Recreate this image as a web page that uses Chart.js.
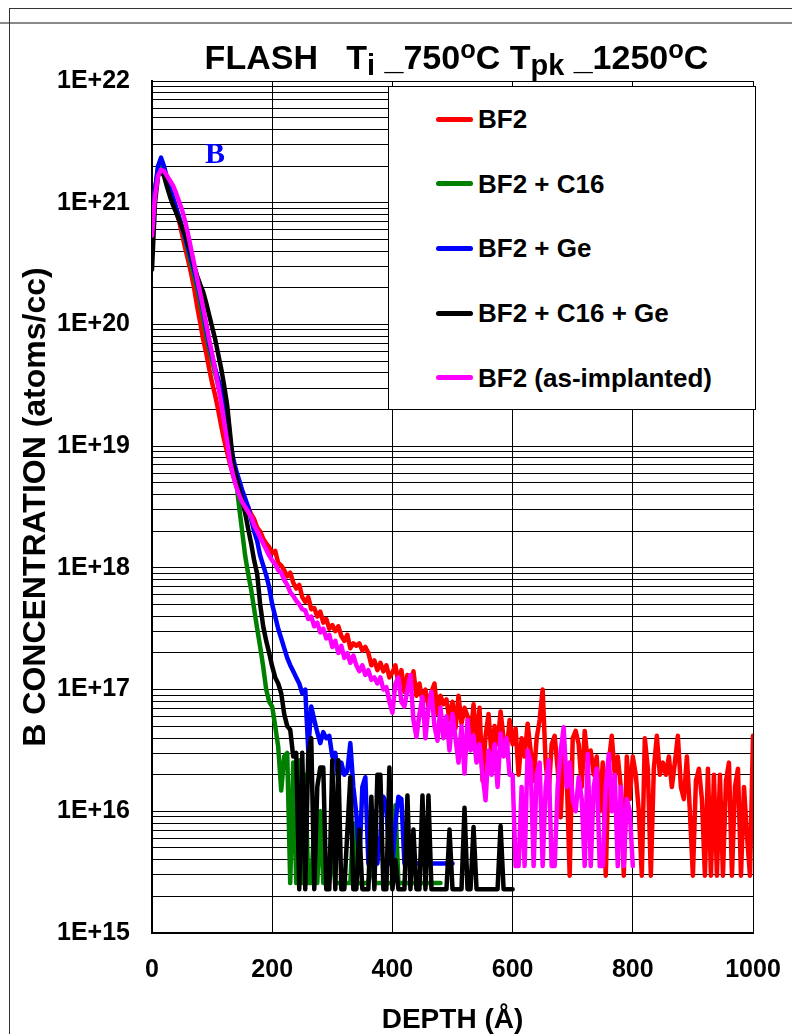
<!DOCTYPE html>
<html>
<head>
<meta charset="utf-8">
<title>FLASH Ti 750°C Tpk 1250°C</title>
<script src="https://cdn.jsdelivr.net/npm/chart.js@4.4.0/dist/chart.umd.min.js"></script>
<style>
  html, body { margin: 0; padding: 0; background: #fff; }
  #page { position: relative; width: 792px; height: 1034px; overflow: hidden;
          font-family: "Liberation Sans", Arial, sans-serif; }
  #chart { position: absolute; left: 0; top: 0; }
  #frameTop { position: absolute; left: 9px; top: 8px; right: 0; height: 0; border-top: 1px solid #333; }
  #frameGray { position: absolute; left: 0; top: 22px; right: 0; height: 0; border-top: 2px solid #8a8a8a; }
  #frameLeft { position: absolute; left: 9px; top: 8px; bottom: 0; width: 0; border-left: 1px solid #333; }
  #title { position: absolute; left: 156px; width: 601px; top: 40px; text-align: center;
           font-weight: bold; font-size: 34px; line-height: 1; white-space: pre; color: #000; }
  #title .sub { font-size: 0.85em; position: relative; top: 0.22em; }
  #title .sup { font-size: 0.75em; position: relative; top: -0.45em; }
  #legend { position: absolute; left: 388px; top: 86px; width: 366px; height: 322px;
            background: #fff; border: 1px solid #000; }
  #legend .row { position: relative; height: 64.6px; display: flex; align-items: center; }
  #legend .swatch { margin-left: 47px; width: 37px; height: 5px; border-radius: 3px; }
  #legend .label { margin-left: 5px; font-weight: bold; font-size: 26px; line-height: 1; color: #000; white-space: pre; }
  #note { position: absolute; left: 205px; top: 138px; font-family: "Liberation Serif", "Times New Roman", serif;
          font-weight: bold; font-size: 30px; line-height: 1; color: #0000ff; }
</style>
</head>
<body>
<div id="page">
  <canvas id="chart" width="792" height="1034"></canvas>
  <div id="frameTop"></div>
  <div id="frameGray"></div>
  <div id="frameLeft"></div>
  <div id="title">FLASH   T<span class="sub">i</span> _750<span class="sup">o</span>C T<span class="sub">pk</span> _1250<span class="sup">o</span>C</div>
  <div id="legend"></div>
  <div id="note">B</div>
</div>
<script>
// Profils SIMS du bore : profondeur (Å) tous les 5 Å, concentrations lues sur l'axe log
// (valeurs = log10 de la concentration en atomes/cc)

const depth = [
  0, 5, 10, 15, 20, 25, 30, 35, 40, 45, 50, 55, 60, 65, 70, 75, 80, 85, 90, 95,
  100, 105, 110, 115, 120, 125, 130, 135, 140, 145, 150, 155, 160, 165, 170, 175, 180, 185, 190, 195,
  200, 205, 210, 215, 220, 225, 230, 235, 240, 245, 250, 255, 260, 265, 270, 275, 280, 285, 290, 295,
  300, 305, 310, 315, 320, 325, 330, 335, 340, 345, 350, 355, 360, 365, 370, 375, 380, 385, 390, 395,
  400, 405, 410, 415, 420, 425, 430, 435, 440, 445, 450, 455, 460, 465, 470, 475, 480, 485, 490, 495,
  500, 505, 510, 515, 520, 525, 530, 535, 540, 545, 550, 555, 560, 565, 570, 575, 580, 585, 590, 595,
  600, 605, 610, 615, 620, 625, 630, 635, 640, 645, 650, 655, 660, 665, 670, 675, 680, 685, 690, 695,
  700, 705, 710, 715, 720, 725, 730, 735, 740, 745, 750, 755, 760, 765, 770, 775, 780, 785, 790, 795,
  800, 805, 810, 815, 820, 825, 830, 835, 840, 845, 850, 855, 860, 865, 870, 875, 880, 885, 890, 895,
  900, 905, 910, 915, 920, 925, 930, 935, 940, 945, 950, 955, 960, 965, 970, 975, 980, 985, 990, 995,
  1000
];

const seriesLabels = ["BF2", "BF2 + C16", "BF2 + Ge", "BF2 + C16 + Ge", "BF2 (as-implanted)"];
const seriesColors = ["#ff0000", "#008000", "#0000ff", "#000000", "#ff00ff"];

const bf2 = [
  20.78, 21.1, 21.25, 21.28, 21.25, 21.18, 21.1, 21.02, 20.93, 20.85, 20.74, 20.63, 20.53, 20.42, 20.3, 20.15, 20.02, 19.88, 19.77, 19.64,
  19.52, 19.42, 19.3, 19.17, 19.05, 18.95, 18.85, 18.76, 18.68, 18.62, 18.58, 18.54, 18.5, 18.44, 18.4, 18.33, 18.3, 18.24, 18.2, 18.17,
  18.12, 18.14, 18.04, 18.02, 17.98, 17.93, 17.96, 17.88, 17.83, 17.86, 17.76, 17.72, 17.76, 17.66, 17.67, 17.6, 17.64, 17.55, 17.58, 17.5,
  17.53, 17.48, 17.52, 17.44, 17.4, 17.45, 17.34, 17.38, 17.36, 17.38, 17.32, 17.35, 17.3, 17.2, 17.24, 17.16, 17.22, 17.15, 17.2, 17.1,
  17.14, 17.2, 17.05, 17.16, 16.98, 17.12, 17.02, 17.15, 16.95, 17.05, 16.9, 17.0, 16.86, 16.98, 17.05, 16.8, 16.95, 16.88, 16.92, 16.75,
  16.9, 16.68, 16.95, 16.72, 16.85, 16.78, 16.6, 16.88, 16.55, 16.85, 16.25, 16.62, 16.8, 16.45, 16.7, 16.55, 16.82, 16.6, 16.48, 16.75,
  16.55, 16.68, 16.3, 16.6, 16.45, 16.72, 16.5, 16.25, 16.6, 16.75, 17.0, 16.4, 16.15, 16.55, 16.62, 16.35, 15.95, 16.5, 16.3, 15.47,
  16.6, 16.66, 16.55, 16.2, 16.66, 16.4, 16.5, 16.3, 16.45, 16.0, 16.4, 15.47, 16.4, 16.62, 16.3, 16.45, 16.2, 15.47, 16.45, 16.1,
  16.45, 16.3, 16.0, 15.47, 16.6, 16.35, 15.47, 16.35, 16.62, 16.3, 16.4, 16.3, 16.45, 16.2, 16.4, 16.62, 16.2, 16.1, 16.45, 16.0,
  15.47, 16.25, 16.35, 16.1, 15.47, 16.35, 15.47, 16.3, 15.47, 16.3, 15.47, 16.25, 16.4, 15.47, 16.2, 16.35, 15.47, 16.2, 15.8, 15.47,
  16.62
];

const bf2C16 = [
  20.75, 21.1, 21.28, 21.32, 21.28, 21.2, 21.12, 21.04, 20.96, 20.88, 20.8, 20.7, 20.6, 20.5, 20.4, 20.3, 20.18, 20.05, 19.92, 19.8,
  19.7, 19.6, 19.5, 19.42, 19.36, 19.2, 19.02, 18.85, 18.72, 18.5, 18.3, 18.1, 17.95, 17.82, 17.66, 17.5, 17.35, 17.19, 17.0, 16.9,
  16.86, 16.7, 16.53, 16.17, 16.45, 16.48, 15.41, 16.4, 15.41, 16.42, 15.41, 16.3, 15.41, 15.41, 15.9, 15.41, 16.0, 15.41, 15.41, 15.41,
  15.7, 15.41, 15.41, 15.41, 15.41, 15.41, 15.41, 15.9, 15.41, 15.41, 15.41, 15.41, 15.41, 15.6, 15.41, 15.41, 15.41, 15.41, 15.41, 15.41,
  15.41, 16.05, 15.41, 15.41, 15.41, 15.41, 15.41, 15.41, 15.41, 15.41, 15.41, 15.41, 15.41, 15.41, 15.41, 15.41, 15.41
];

const bf2Ge = [
  20.7, 21.1, 21.3, 21.37, 21.3, 21.2, 21.12, 21.04, 20.96, 20.88, 20.8, 20.72, 20.63, 20.54, 20.45, 20.35, 20.24, 20.12, 19.98, 19.85,
  19.74, 19.64, 19.55, 19.47, 19.4, 19.28, 19.05, 18.9, 18.8, 18.72, 18.64, 18.57, 18.5, 18.4, 18.3, 18.22, 18.1, 18.02, 17.94, 17.84,
  17.7, 17.6, 17.5, 17.42, 17.34, 17.26, 17.2, 17.15, 17.1, 17.05, 16.97, 17.0, 16.5, 16.86, 16.75, 16.65, 16.56, 16.65, 16.6, 16.62,
  16.45, 16.48, 16.26, 16.4, 16.3, 16.33, 16.56, 16.2, 15.98, 15.57, 16.2, 16.28, 15.57, 15.98, 16.0, 15.57, 15.8, 16.12, 16.05, 15.57,
  15.57, 15.9, 16.12, 16.1, 15.57, 15.57, 15.57, 15.57, 15.57, 15.57, 15.57, 15.57, 15.57, 15.57, 15.57, 15.57, 15.57, 15.57, 15.57, 15.57,
  15.57
];

const bf2C16Ge = [
  20.45, 21.0, 21.22, 21.26, 21.22, 21.13, 21.05, 20.98, 20.92, 20.86, 20.8, 20.74, 20.66, 20.58, 20.48, 20.4, 20.33, 20.27, 20.18, 20.08,
  19.98, 19.88, 19.76, 19.64, 19.5, 19.34, 19.1, 18.85, 18.75, 18.65, 18.55, 18.45, 18.32, 18.2, 18.06, 17.95, 17.7, 17.52, 17.4, 17.3,
  17.19, 17.1, 17.05, 16.97, 16.8, 16.7, 16.67, 16.45, 16.48, 15.36, 16.48, 15.36, 16.48, 16.6, 15.36, 16.2, 16.36, 16.36, 15.36, 15.36,
  16.42, 15.36, 16.42, 15.36, 15.36, 15.83, 16.28, 15.36, 15.36, 15.85, 15.36, 15.36, 15.36, 16.12, 15.36, 16.3, 16.3, 15.36, 15.36, 16.36,
  15.36, 15.6, 15.36, 15.36, 15.36, 16.13, 15.36, 15.85, 15.36, 15.36, 16.13, 15.36, 16.13, 15.36, 15.36, 15.36, 15.36, 15.36, 15.36, 15.85,
  15.36, 15.36, 15.36, 15.36, 16.03, 15.36, 15.36, 15.87, 15.36, 15.36, 15.36, 15.36, 15.36, 15.36, 15.36, 15.36, 15.88, 15.36, 15.36, 15.36,
  15.36
];

const bf2AsImpl = [
  20.73, 21.05, 21.22, 21.27, 21.26, 21.22, 21.18, 21.14, 21.08, 21.01, 20.94, 20.85, 20.74, 20.62, 20.5, 20.38, 20.26, 20.14, 20.01, 19.88,
  19.76, 19.63, 19.5, 19.36, 19.2, 19.04, 18.87, 18.76, 18.67, 18.6, 18.54, 18.5, 18.46, 18.42, 18.35, 18.3, 18.25, 18.2, 18.15, 18.1,
  18.06, 18.03, 17.98, 17.96, 17.9, 17.86, 17.8, 17.77, 17.73, 17.7, 17.66, 17.65, 17.58, 17.6, 17.52, 17.55, 17.47, 17.5, 17.42, 17.45,
  17.35, 17.4, 17.3, 17.36, 17.26, 17.3, 17.22, 17.28, 17.2, 17.15, 17.2, 17.12, 17.16, 17.08, 17.1, 17.05, 17.1, 17.0, 17.02, 16.9,
  16.81, 17.05, 17.1, 16.9, 16.86, 17.0, 17.12, 16.75, 16.61, 16.8, 16.94, 16.6, 16.85, 16.98, 16.7, 16.58, 16.85, 16.6, 16.78, 16.5,
  16.8, 16.6, 16.4, 16.7, 16.31, 16.75, 16.5, 16.62, 16.4, 16.55, 16.3, 16.09, 16.5, 16.3, 16.55, 16.2, 16.64, 16.45, 16.6, 16.3,
  16.3, 15.55, 15.55, 16.2, 15.55, 16.5, 16.4, 15.55, 16.3, 16.4, 15.55, 16.2, 16.42, 15.55, 15.55, 16.2, 16.5, 16.69, 16.2, 16.4,
  16.1, 16.0, 16.28, 16.1, 15.55, 16.47, 15.55, 16.2, 16.35, 15.55, 15.55, 16.2, 16.47, 16.0, 16.3, 15.55, 16.2, 15.55, 16.1, 16.0,
  15.55
];

const xTicks = [0, 200, 400, 600, 800, 1000];
const yDecades = [15, 16, 17, 18, 19, 20, 21, 22];

const seriesValues = [bf2, bf2C16, bf2Ge, bf2C16Ge, bf2AsImpl];
const drawOrder = [5, 4, 3, 2, 1]; // le rose par-dessus, comme sur la figure

// graduations log : 1..9 x 10^n, étiquette seulement sur les décades
const yTicks = [];
yDecades.forEach((e, i) => {
  const last = i === yDecades.length - 1;
  for (let m = 1; m <= (last ? 1 : 9); m++) yTicks.push(m * Math.pow(10, e));
});

const fontFamily = '"Liberation Sans", Arial, sans-serif';

document.addEventListener("DOMContentLoaded", function () {
  // légende HTML dans le cadre en haut à droite
  const legend = document.getElementById("legend");
  seriesLabels.forEach((label, i) => {
    const row = document.createElement("div");
    row.className = "row";
    const sw = document.createElement("div");
    sw.className = "swatch";
    sw.style.background = seriesColors[i];
    const txt = document.createElement("div");
    txt.className = "label";
    txt.textContent = label;
    row.appendChild(sw);
    row.appendChild(txt);
    legend.appendChild(row);
  });

  const datasets = seriesValues.map((vals, i) => ({
    label: seriesLabels[i],
    data: vals.map((v, k) => ({ x: depth[k], y: Math.pow(10, v) })),
    borderColor: seriesColors[i],
    backgroundColor: seriesColors[i],
    borderWidth: 4.5,
    pointRadius: 0,
    fill: false,
    tension: 0,
    order: drawOrder[i],
    borderJoinStyle: "round",
    borderCapStyle: "round",
  }));

  const ctx = document.getElementById("chart").getContext("2d");
  new Chart(ctx, {
    type: "line",
    data: { datasets: datasets },
    options: {
      responsive: false,
      animation: false,
      layout: { autoPadding: false, padding: { top: 81, right: 39, left: 0, bottom: 0 } },
      plugins: { legend: { display: false }, tooltip: { enabled: false } },
      scales: {
        x: {
          type: "linear",
          min: 0,
          max: 1000,
          afterBuildTicks: (scale) => { scale.ticks = xTicks.map((v) => ({ value: v })); },
          afterFit: (scale) => {
            scale.height = 101;
            // le "1000" peut déborder à droite, comme sur l'original
            scale.paddingLeft = 0;
            scale.paddingRight = 0;
          },
          ticks: {
            callback: (v) => String(v),
            color: "#000",
            padding: 22,
            maxRotation: 0,
            autoSkip: false,
            font: { family: fontFamily, size: 25, weight: "bold" },
          },
          grid: { color: "#000", lineWidth: 1, drawTicks: false },
          border: { color: "#000", width: 2 },
          title: {
            display: true,
            text: "DEPTH (Å)",
            color: "#000",
            padding: { top: 0, bottom: 0 },
            font: { family: fontFamily, size: 28, weight: "bold", lineHeight: 1 },
          },
        },
        y: {
          type: "logarithmic",
          min: 1e15,
          max: 1e22,
          afterBuildTicks: (scale) => { scale.ticks = yTicks.map((v) => ({ value: v })); },
          afterFit: (scale) => { scale.width = 152; },
          ticks: {
            callback: (v) => {
              const e = Math.round(Math.log10(v));
              return Math.abs(v / Math.pow(10, e) - 1) < 1e-6 ? "1E+" + e : "";
            },
            color: "#000",
            padding: 22,
            autoSkip: false,
            font: { family: fontFamily, size: 25, weight: "bold" },
          },
          grid: { color: "#000", lineWidth: 1, drawTicks: false },
          border: { color: "#000", width: 2 },
          title: {
            display: true,
            text: "B CONCENTRATION (atoms/cc)",
            color: "#000",
            padding: { top: 20, bottom: 0 },
            font: { family: fontFamily, size: 32, weight: "bold", lineHeight: 1 },
          },
        },
      },
    },
  });
});
</script>
</body>
</html>
